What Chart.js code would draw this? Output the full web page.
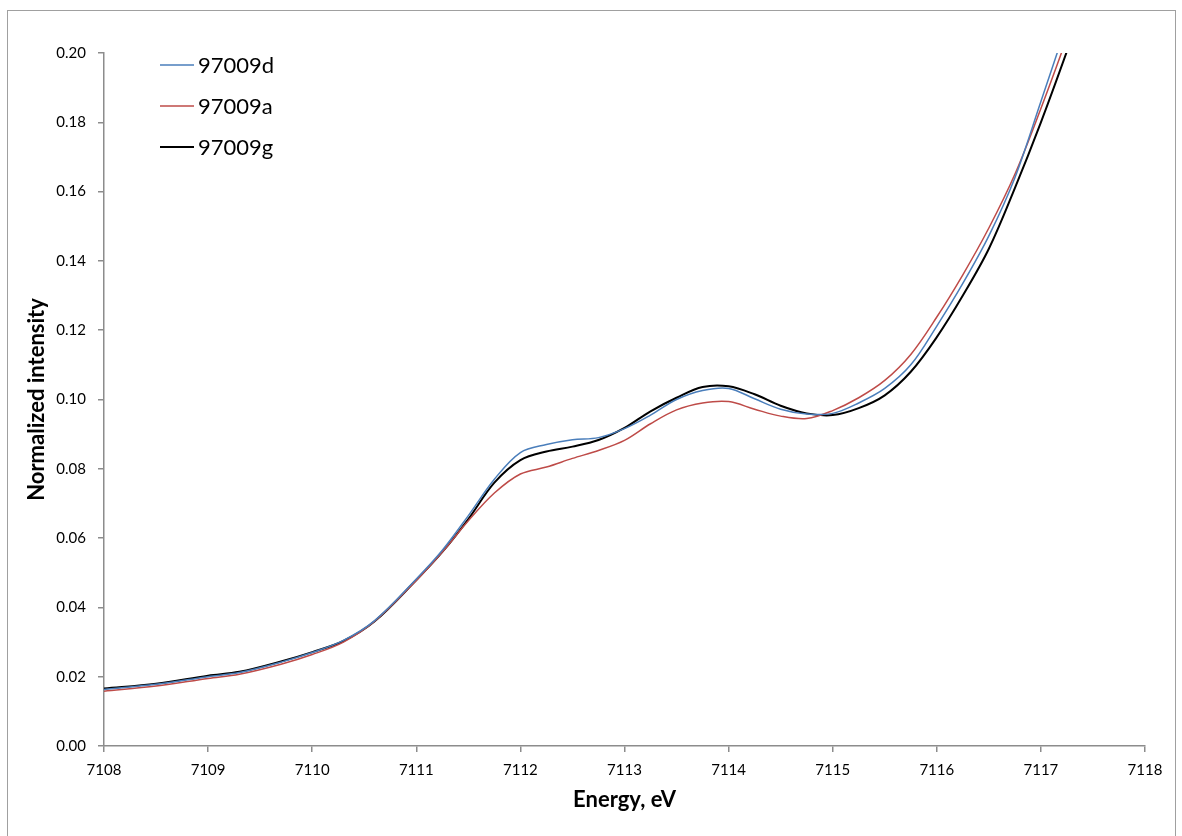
<!DOCTYPE html>
<html>
<head>
<meta charset="utf-8">
<title>Fe K pre-edge</title>
<script src="https://cdn.jsdelivr.net/npm/chart.js@4.4.1/dist/chart.umd.min.js"></script>
<style>
  html, body { margin: 0; padding: 0; background: #fff; }
  #wrap { width: 1182px; height: 836px; }
</style>
</head>
<body>
<div id="wrap"><canvas id="xas-chart" width="1182" height="836"></canvas></div>
<script>
// energy grid, eV
const energy = [7108, 7108.5, 7109, 7109.3, 7109.7, 7110, 7110.3, 7110.6, 7111, 7111.25,
                7111.5, 7111.75, 7112, 7112.25, 7112.5, 7112.75, 7113, 7113.25, 7113.5, 7113.75,
                7114, 7114.25, 7114.5, 7114.75, 7115, 7115.25, 7115.5, 7115.75, 7116, 7116.25,
                7116.5, 7116.75, 7117, 7117.25, 7117.5];

// normalized intensity per sample
const sample97009d = [0.0163, 0.0178, 0.0200, 0.0212, 0.0242, 0.0270, 0.0305, 0.0362, 0.0482, 0.0565,
                      0.0665, 0.0770, 0.0847, 0.0870, 0.0884, 0.0890, 0.0916, 0.0955, 0.1000, 0.1026,
                      0.1032, 0.1002, 0.0972, 0.0958, 0.0960, 0.0990, 0.1032, 0.1100, 0.1212, 0.1335,
                      0.1472, 0.1640, 0.1860, 0.2085, 0.2320];
const sample97009a = [0.0158, 0.0173, 0.0195, 0.0207, 0.0236, 0.0264, 0.0300, 0.0360, 0.0478, 0.0560,
                      0.0650, 0.0730, 0.0785, 0.0805, 0.0830, 0.0853, 0.0882, 0.0930, 0.0970, 0.0990,
                      0.0994, 0.0972, 0.0952, 0.0945, 0.0968, 0.1005, 0.1055, 0.1130, 0.1238, 0.1360,
                      0.1495, 0.1650, 0.1840, 0.2045, 0.2270];
const sample97009g = [0.0166, 0.0180, 0.0203, 0.0214, 0.0244, 0.0271, 0.0303, 0.0360, 0.0479, 0.0560,
                      0.0655, 0.0760, 0.0825, 0.0850, 0.0864, 0.0883, 0.0918, 0.0966, 0.1005, 0.1036,
                      0.1038, 0.1015, 0.0982, 0.0960, 0.0955, 0.0975, 0.1012, 0.1080, 0.1180, 0.1300,
                      0.1435, 0.1610, 0.1800, 0.2005, 0.2220];

const seriesNames = ['97009d', '97009a', '97009g'];
const seriesColors = ['#4a7ebb', '#be4b48', '#000000'];
const seriesWidths = [1.5, 1.5, 2];
const seriesValues = [sample97009d, sample97009a, sample97009g];

const fontFamily = 'Lato, "Open Sans", sans-serif';
const axisGray = '#8c8c8c';

function toPoints(values) {
    return energy.map((e, i) => ({ x: e, y: values[i] }));
}

// outer frame around the whole figure
const framePlugin = {
    id: 'frame',
    beforeDraw(chart) {
        const ctx = chart.ctx;
        ctx.save();
        ctx.strokeStyle = '#a0a0a0';
        ctx.lineWidth = 1;
        ctx.strokeRect(7.5, 10.5, 1168, 850);
        ctx.restore();
    }
};

// legend sitting inside the plot, top-left
const insideLegend = {
    id: 'insideLegend',
    afterDraw(chart) {
        const ctx = chart.ctx;
        ctx.save();
        ctx.font = '22px ' + fontFamily;
        ctx.textBaseline = 'middle';
        chart.data.datasets.forEach((ds, i) => {
            const y = 65 + i * 41;
            ctx.strokeStyle = ds.borderColor;
            ctx.lineWidth = ds.borderWidth;
            ctx.beginPath();
            ctx.moveTo(160, y);
            ctx.lineTo(194, y);
            ctx.stroke();
            ctx.fillStyle = '#000';
            ctx.fillText(ds.label, 198, y + 1);
        });
        ctx.restore();
    }
};

const ctx = document.getElementById('xas-chart').getContext('2d');

let xasChart = new Chart(ctx, {
    type: 'line',
    data: {
        datasets: seriesNames.map((name, i) => ({
            label: name,
            data: toPoints(seriesValues[i]),
            borderColor: seriesColors[i],
            backgroundColor: seriesColors[i],
            borderWidth: seriesWidths[i],
            pointRadius: 0,
            fill: false,
            tension: 0.35
        }))
    },
    options: {
        responsive: false,
        animation: false,
        layout: { padding: { left: 20, right: 37, top: 53, bottom: 19 } },
        plugins: {
            legend: { display: false },
            tooltip: { enabled: false }
        },
        scales: {
            x: {
                type: 'linear',
                min: 7108,
                max: 7118,
                border: { color: axisGray, width: 1.5 },
                grid: { drawOnChartArea: false, tickLength: 6, color: axisGray, lineWidth: 1.5 },
                ticks: {
                    stepSize: 1,
                    padding: 9,
                    color: '#000',
                    font: { family: fontFamily, size: 15 },
                    maxRotation: 0,
                    callback: v => String(v)
                },
                title: {
                    display: true,
                    text: 'Energy, eV',
                    color: '#000',
                    font: { family: fontFamily, size: 22, weight: 'bold' }
                },
                afterFit: scale => { scale.height = 71; }
            },
            y: {
                min: 0,
                max: 0.2,
                border: { color: axisGray, width: 1.5 },
                grid: { drawOnChartArea: false, tickLength: 6, color: axisGray, lineWidth: 1.5 },
                ticks: {
                    stepSize: 0.02,
                    padding: 12,
                    color: '#000',
                    font: { family: fontFamily, size: 15 },
                    callback: v => v.toFixed(2)
                },
                title: {
                    display: true,
                    text: 'Normalized intensity',
                    color: '#000',
                    font: { family: fontFamily, size: 22, weight: 'bold' }
                },
                afterFit: scale => { scale.width = 84; }
            }
        }
    },
    plugins: [framePlugin, insideLegend]
});
</script>
</body>
</html>
